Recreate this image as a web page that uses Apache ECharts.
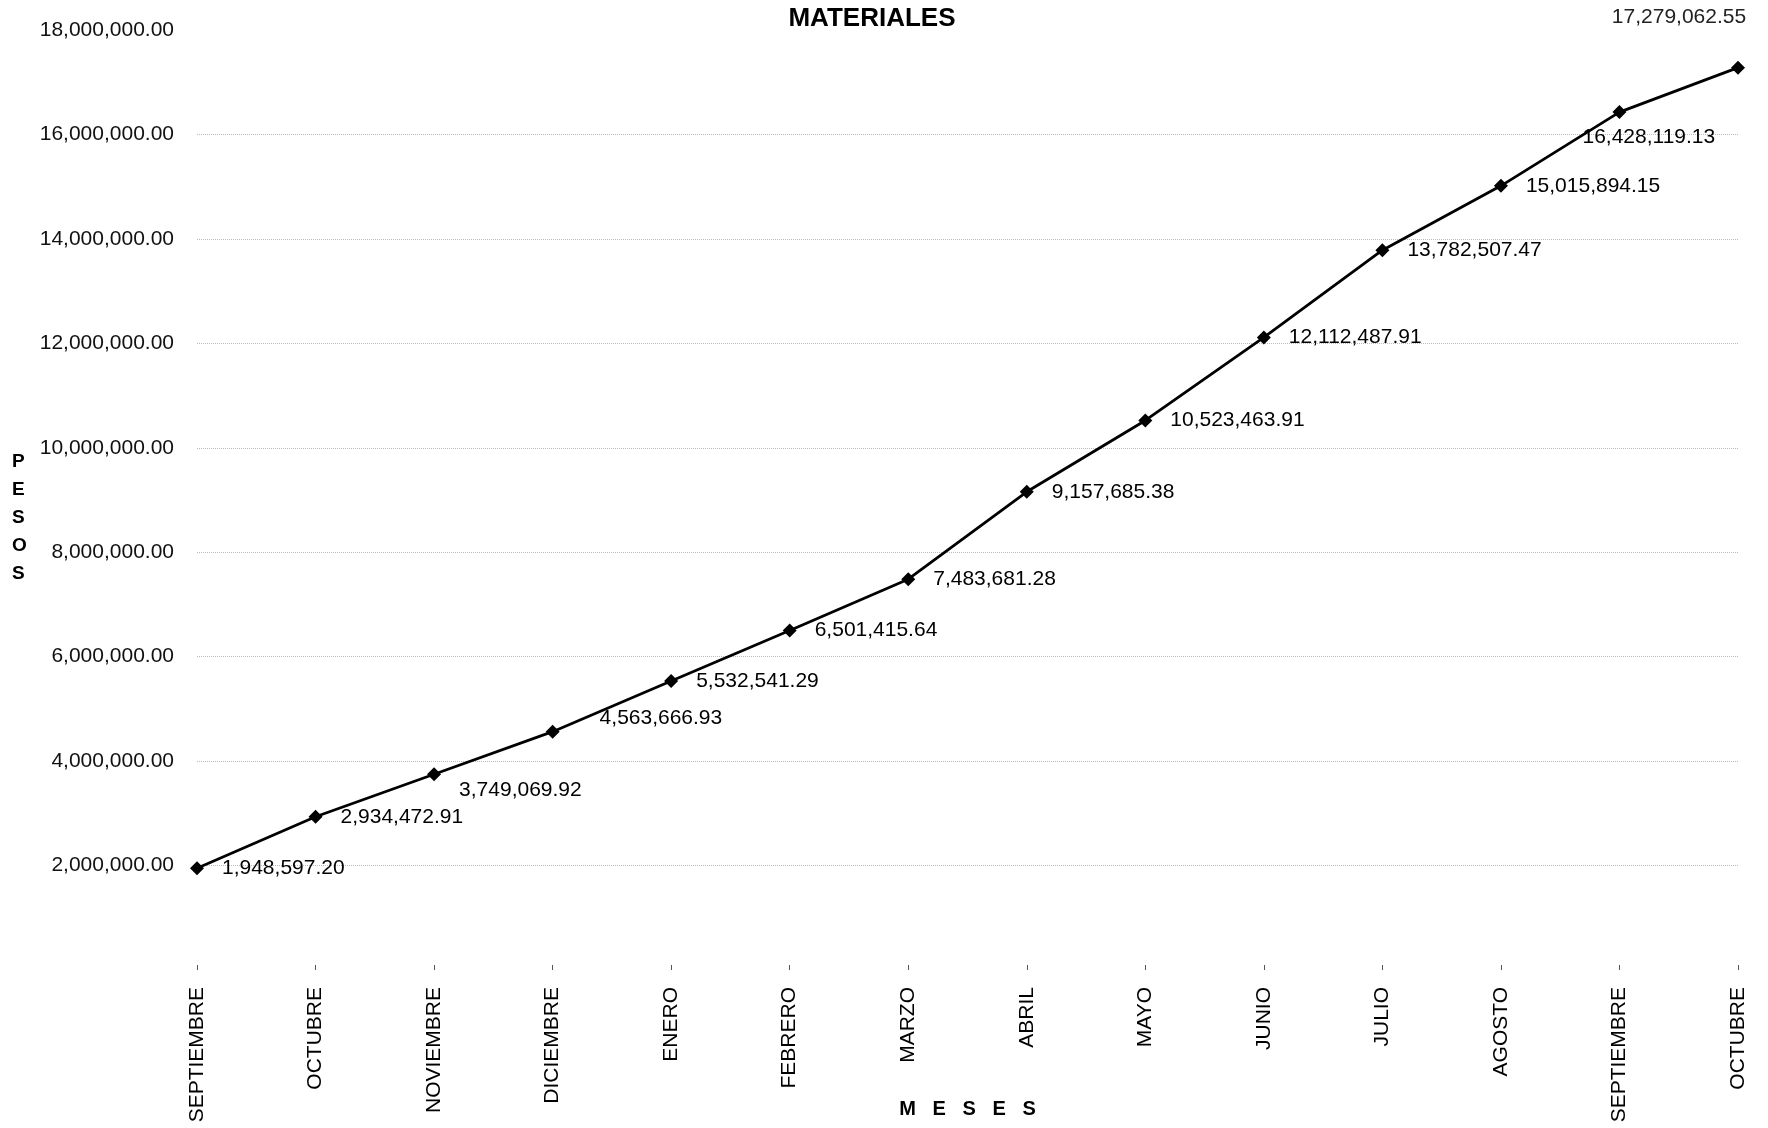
<!DOCTYPE html>
<html>
<head>
<meta charset="utf-8">
<script src="https://cdn.jsdelivr.net/npm/echarts@6/dist/echarts.min.js"></script>
<style>
    html, body { margin: 0; padding: 0; background: #fff; }
    #chart { width: 1768px; height: 1128px; }
</style>
</head>
<body>
<div id="chart"></div>
<script>
const months = ['SEPTIEMBRE', 'OCTUBRE', 'NOVIEMBRE', 'DICIEMBRE', 'ENERO', 'FEBRERO', 'MARZO',
    'ABRIL', 'MAYO', 'JUNIO', 'JULIO', 'AGOSTO', 'SEPTIEMBRE', 'OCTUBRE']
const pesos = [1948597.20, 2934472.91, 3749069.92, 4563666.93, 5532541.29, 6501415.64, 7483681.28,
    9157685.38, 10523463.91, 12112487.91, 13782507.47, 15015894.15, 16428119.13, 17279062.55]

const fmt = (v) => v.toLocaleString('en-US', { minimumFractionDigits: 2, maximumFractionDigits: 2 })

// a few labels sit off the usual right-hand spot
const labelTweaks = {
    2: { offset: [0, 16] },
    3: { offset: [22, -13] },
    12: { offset: [-62, 25] },
    13: { position: 'top', offset: [-59, -15], color: '#222' },
}

const chart = echarts.init(document.getElementById('chart'))

const option = {
    animation: false,
    textStyle: { fontFamily: 'Liberation Sans, Arial, sans-serif' },
    title: {
        text: 'MATERIALES',
        left: 867,
        top: 1,
        textAlign: 'center',
        textStyle: { fontSize: 26, fontWeight: 'bold', color: '#000' },
    },
    grid: { left: 197, right: 30, top: 30, bottom: 158, outerBoundsMode: 'none' },
    graphic: [
        {
            type: 'text',
            left: 12,
            top: 448,
            style: {
                text: 'P\nE\nS\nO\nS',
                font: 'bold 19px Liberation Sans',
                lineHeight: 28,
                fill: '#000',
                align: 'center',
            },
        },
    ],
    xAxis: {
        type: 'category',
        data: months,
        boundaryGap: false,
        name: 'M   E   S   E   S',
        nameLocation: 'middle',
        nameGap: 129,
        nameMoveOverlap: false,
        nameTextStyle: { fontSize: 20, fontWeight: 'bold', color: '#000' },
        axisLine: { show: false },
        axisTick: { show: true, inside: true, length: 5, lineStyle: { color: '#555' } },
        axisLabel: { rotate: 90, margin: 17, fontSize: 21, color: '#000' },
        splitLine: { show: false },
    },
    yAxis: {
        type: 'value',
        min: 0,
        max: 18000000,
        interval: 2000000,
        axisLine: { show: false },
        axisTick: { show: false },
        axisLabel: {
            margin: 23,
            fontSize: 21,
            color: '#111',
            formatter: (v) => (v === 0 ? '' : fmt(v)),
        },
        splitLine: {
            showMinLine: false,
            showMaxLine: false,
            lineStyle: { color: '#bbb', type: 'dotted', width: 1 },
        },
    },
    series: [
        {
            type: 'line',
            data: pesos.map((v, i) => ({
                value: v,
                label: labelTweaks[i] || {},
            })),
            symbol: 'diamond',
            symbolSize: 14,
            lineStyle: { color: '#000', width: 2.8 },
            itemStyle: { color: '#000' },
            label: {
                show: true,
                position: 'right',
                distance: 18,
                fontSize: 21,
                color: '#000',
                formatter: (p) => fmt(p.value),
            },
        },
    ],
}

chart.setOption(option)
</script>
</body>
</html>
